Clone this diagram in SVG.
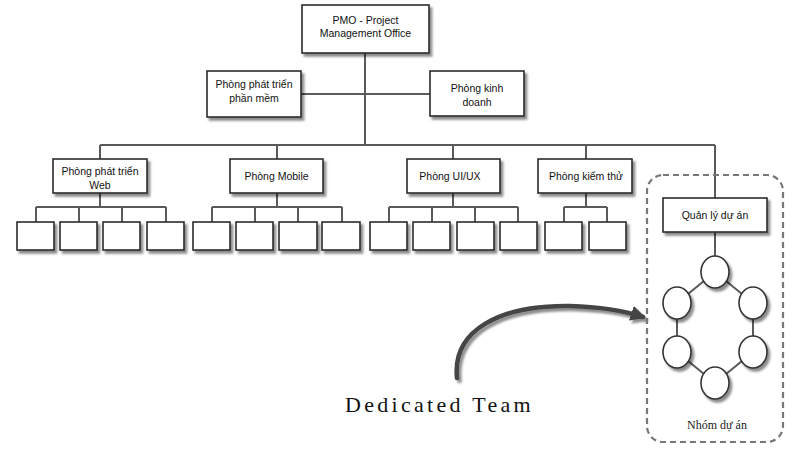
<svg xmlns="http://www.w3.org/2000/svg" width="800" height="462" viewBox="0 0 800 462">
<style>
.bx{fill:#fff;stroke:#2a2a2a;stroke-width:1.6;filter:url(#sh)}
.t{font-family:"Liberation Sans",Arial,sans-serif;font-size:10.5px;fill:#111;text-anchor:middle}
.ln{stroke:#5a5a5a;stroke-width:2;fill:none}
.ci{fill:#fff;stroke:#333;stroke-width:1.6;filter:url(#sh)}
</style>
<defs>
<filter id="sh" x="-20%" y="-20%" width="150%" height="160%">
<feDropShadow dx="2.5" dy="3" stdDeviation="1.3" flood-color="#000" flood-opacity="0.45"/>
</filter>
<marker id="ah" viewBox="0 0 10 10" refX="8" refY="5" markerWidth="3.4" markerHeight="3.4" orient="auto" markerUnits="strokeWidth">
<path d="M0,0 L10,5 L0,10 Z" fill="#444"/>
</marker>
</defs>
<rect width="800" height="462" fill="#fff"/>

<g id="connectors">
<path class="ln" d="M365,53 V145 M301,94 H432 M100,145 H715 M100,145 V159 M277,145 V159 M453,145 V159 M586,145 V159 M715,145 V198"/>
<path class="ln" d="M100,193 V207 M36,207 H166 M36,207 V222 M79,207 V222 M122,207 V222 M166,207 V222"/>
<path class="ln" d="M277,193 V207 M212,207 H342 M212,207 V222 M255,207 V222 M298,207 V222 M342,207 V222"/>
<path class="ln" d="M453,193 V207 M389,207 H518 M389,207 V222 M432,207 V222 M475,207 V222 M518,207 V222"/>
<path class="ln" d="M586,193 V207 M564,207 H607 M564,207 V222 M607,207 V222"/>
<path class="ln" d="M715,232 V256"/>
<path class="ln" d="M715,272 L677,303 L677,352 L715,383 L753,352 L753,303 Z"/>
<path d="M457,378 C452,330 500,305 570,306 C605,307 625,311 643,317" stroke="#444" stroke-width="4.5" fill="none" stroke-linecap="round" marker-end="url(#ah)" filter="url(#sh)"/>
</g>

<g id="pmo"><rect class="bx" x="302" y="5" width="127" height="48"/>
<text class="t" x="365.5" y="24">PMO - Project</text><text class="t" x="365.5" y="37">Management Office</text></g>

<g id="ptpm"><rect class="bx" x="207" y="71" width="94" height="46"/>
<text class="t" x="254" y="88">Phòng phát triển</text><text class="t" x="254" y="102">phần mềm</text></g>

<g id="pkd"><rect class="bx" x="430" y="71" width="94" height="45"/>
<text class="t" x="477" y="92">Phòng kinh</text><text class="t" x="477" y="106">doanh</text></g>

<g id="web"><rect class="bx" x="53" y="159" width="94" height="34"/>
<text class="t" x="100" y="175">Phòng phát triển</text><text class="t" x="100" y="189">Web</text></g>

<g id="mobile"><rect class="bx" x="230" y="159" width="93" height="34"/>
<text class="t" x="276.5" y="180">Phòng Mobile</text></g>

<g id="uiux"><rect class="bx" x="407" y="159" width="93" height="34"/>
<text class="t" x="450" y="180">Phòng UI/UX</text></g>

<g id="kiemthu"><rect class="bx" x="538" y="159" width="94" height="34"/>
<text class="t" x="586" y="180">Phòng kiểm thử</text></g>

<g id="web-members">
<rect class="bx" x="17" y="222" width="37" height="28"/><rect class="bx" x="60" y="222" width="37" height="28"/><rect class="bx" x="103" y="222" width="37" height="28"/><rect class="bx" x="147" y="222" width="37" height="28"/>
</g>
<g id="mobile-members">
<rect class="bx" x="193" y="222" width="37" height="28"/><rect class="bx" x="236" y="222" width="37" height="28"/><rect class="bx" x="279" y="222" width="38" height="28"/><rect class="bx" x="322" y="222" width="38" height="28"/>
</g>
<g id="uiux-members">
<rect class="bx" x="370" y="222" width="37" height="28"/><rect class="bx" x="413" y="222" width="37" height="28"/><rect class="bx" x="457" y="222" width="37" height="28"/><rect class="bx" x="500" y="222" width="37" height="28"/>
</g>
<g id="kiemthu-members">
<rect class="bx" x="545" y="222" width="37" height="28"/><rect class="bx" x="589" y="222" width="37" height="28"/>
</g>

<g id="dedicated-team">
<rect x="647" y="175" width="136" height="267" rx="16" fill="none" stroke="#777" stroke-width="2.2" stroke-dasharray="6,4"/>
<text x="717" y="429" font-family="Liberation Serif,'Times New Roman',serif" font-size="12" fill="#222" text-anchor="middle">Nhóm dự án</text>
</g>

<g id="qlda"><rect class="bx" x="663" y="198" width="104" height="34"/>
<text class="t" x="715" y="219">Quản lý dự án</text></g>

<g id="team-members">
<ellipse class="ci" cx="715" cy="272" rx="14" ry="16"/>
<ellipse class="ci" cx="677" cy="303" rx="14" ry="16"/>
<ellipse class="ci" cx="753" cy="303" rx="14" ry="16"/>
<ellipse class="ci" cx="677" cy="352" rx="14" ry="16"/>
<ellipse class="ci" cx="753" cy="352" rx="14" ry="16"/>
<ellipse class="ci" cx="715" cy="383" rx="14" ry="16"/>
</g>

<text x="345" y="412" font-family="Liberation Serif,'Times New Roman',serif" font-size="22" letter-spacing="3.3" fill="#111">Dedicated Team</text>
</svg>
